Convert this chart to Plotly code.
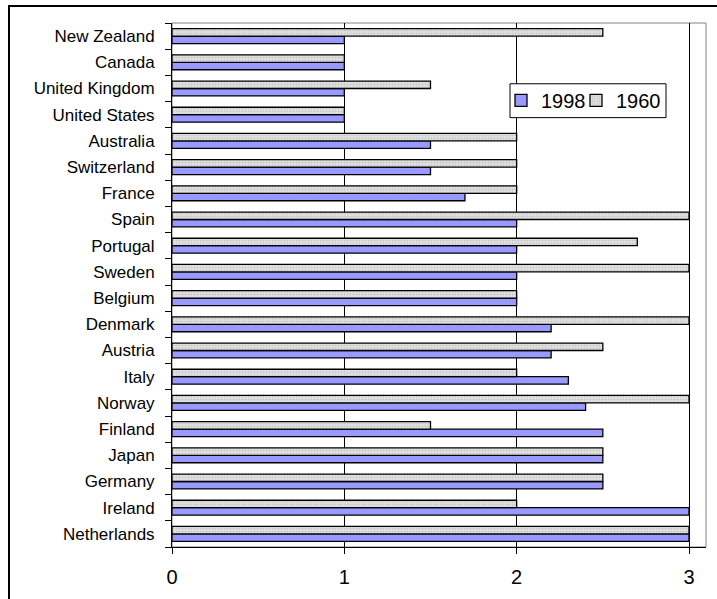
import plotly.graph_objects as go

countries = ["Netherlands", "Ireland", "Germany", "Japan", "Finland", "Norway", "Italy",
             "Austria", "Denmark", "Belgium", "Sweden", "Portugal", "Spain", "France",
             "Switzerland", "Australia", "United States", "United Kingdom", "Canada",
             "New Zealand"]
values_1998 = [3, 3, 2.5, 2.5, 2.5, 2.4, 2.3, 2.2, 2.2, 2, 2, 2, 2, 1.7, 1.5, 1.5, 1, 1, 1, 1]
values_1960 = [3, 2, 2.5, 2.5, 1.5, 3, 2, 2.5, 3, 2, 3, 2.7, 3, 2, 2, 2, 1, 1.5, 1, 2.5]
x_ticks = [0, 1, 2, 3]

L, R, T, B = 172, 11, 23, 50
W, H = 717, 599
pw, ph = W - L - R, H - T - B


def px_x(p):
    return (p - L) / pw


def px_y(p):
    return (H - B - p) / ph


fig = go.Figure()
fig.add_trace(go.Bar(
    y=countries, x=values_1998, orientation="h", name="1998", legend="legend",
    marker=dict(color="#9999FF", line=dict(color="black", width=1.3)),
))
fig.add_trace(go.Bar(
    y=countries, x=values_1960, orientation="h", name="1960", legend="legend2",
    marker=dict(color="#E2E2E2", line=dict(color="black", width=1.3),
                pattern=dict(shape=".", fgcolor="#A8A8A8", bgcolor="#E2E2E2",
                             size=3, solidity=0.35)),
))

leg_common = dict(orientation="h", xanchor="left", yanchor="top",
                  bgcolor="rgba(0,0,0,0)", borderwidth=0,
                  font=dict(size=20))

fig.update_layout(
    width=W, height=H,
    margin=dict(l=L, r=R, t=T, b=B),
    paper_bgcolor="white", plot_bgcolor="white",
    barmode="group", bargap=0.43, bargroupgap=0,
    font=dict(family="Liberation Sans, Arial, sans-serif", color="black"),
    showlegend=True,
    legend=dict(x=px_x(501), y=px_y(81), **leg_common),
    legend2=dict(x=px_x(576), y=px_y(81), **leg_common),
    xaxis=dict(
        range=[0, (706 - L) / ((689 - L) / 3)],
        tickvals=x_ticks, ticktext=[str(v) for v in x_ticks],
        tickfont=dict(size=20),
        showgrid=True, gridcolor="black", gridwidth=1,
        showline=True, linecolor="black", linewidth=1,
        ticks="outside", ticklen=6, tickcolor="black",
        ticklabelstandoff=6,
        zeroline=False, fixedrange=True,
    ),
    yaxis=dict(
        tickfont=dict(size=17),
        showgrid=False,
        showline=True, linecolor="black", linewidth=1,
        ticks="outside", ticklen=6, tickcolor="black",
        tickson="boundaries",
        ticklabelstandoff=13,
        fixedrange=True,
    ),
    shapes=[
        dict(type="rect", xref="paper", yref="paper", x0=0, x1=1, y0=0, y1=1,
             line=dict(color="#808080", width=1), layer="below"),
        dict(type="rect", xref="paper", yref="paper",
             x0=px_x(510), x1=px_x(666), y0=px_y(118), y1=px_y(84),
             fillcolor="white", line=dict(color="black", width=1), layer="above"),
        dict(type="rect", xref="paper", yref="paper",
             x0=px_x(9), x1=px_x(730),
             y0=px_y(620), y1=px_y(6),
             line=dict(color="black", width=2), layer="above"),
    ],
)

fig.write_html("out.html", config={"displayModeBar": False},
               post_script="document.body.style.margin='0';")
